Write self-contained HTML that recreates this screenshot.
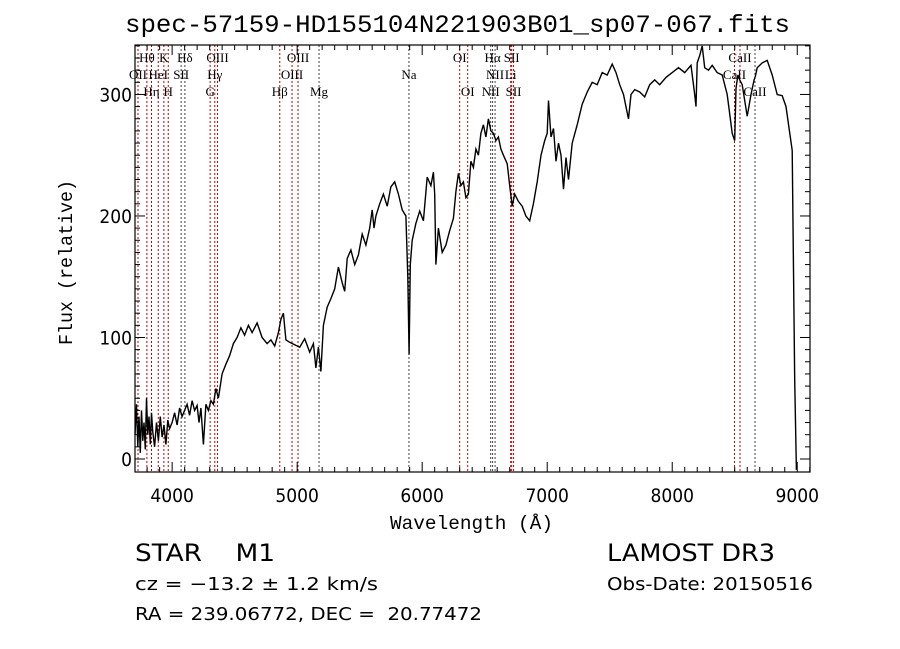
<!DOCTYPE html>
<html><head><meta charset="utf-8"><style>
body{margin:0;background:#fff;width:900px;height:649px;overflow:hidden}
svg{display:block}
.t{font-family:"Liberation Sans Narrow","DejaVu Sans Condensed","Liberation Sans",sans-serif;fill:#000}
.s{font-family:"Liberation Serif",serif;fill:#000}
.m{font-family:"Liberation Mono",monospace;fill:#000}
</style></head><body>
<svg id="chart" width="900" height="649">
<text class="m" x="125" y="32" font-size="25" textLength="665" lengthAdjust="spacingAndGlyphs">spec-57159-HD155104N221903B01_sp07-067.fits</text>
<g id="lines"></g>
<g id="labels"></g>
<path id="spec" fill="none" stroke="#000" stroke-width="1.4"/>
<rect x="135" y="45" width="675" height="427" fill="none" stroke="#000" stroke-width="1.2"/>
<g id="axes"></g>
<text class="m" x="390" y="529" font-size="19" textLength="163" lengthAdjust="spacingAndGlyphs">Wavelength (Å)</text>
<text class="m" x="0" y="0" font-size="19" textLength="165" lengthAdjust="spacingAndGlyphs" transform="translate(72,345) rotate(-90)">Flux (relative)</text>
<text class="t" x="135" y="561" font-size="24" textLength="140" lengthAdjust="spacingAndGlyphs" xml:space="preserve">STAR    M1</text>
<text class="t" x="607" y="561" font-size="24" textLength="168" lengthAdjust="spacingAndGlyphs">LAMOST DR3</text>
<text class="t" x="135" y="590" font-size="18" textLength="243" lengthAdjust="spacingAndGlyphs">cz = −13.2 ± 1.2 km/s</text>
<text class="t" x="607" y="590" font-size="18" textLength="206" lengthAdjust="spacingAndGlyphs">Obs-Date: 20150516</text>
<text class="t" x="135" y="620" font-size="18" textLength="347" lengthAdjust="spacingAndGlyphs" xml:space="preserve">RA = 239.06772, DEC =  20.77472</text>
</svg>
<script>
const wavelengths=[3703,3715,3725,3735,3745,3755,3765,3775,3785,3795,3805,3815,3825,3835,3845,3860,3875,3890,3905,3920,3935,3950,3965,3980,4000,4020,4040,4060,4080,4100,4120,4140,4160,4180,4200,4215,4230,4250,4270,4290,4310,4330,4350,4370,4400,4430,4460,4490,4520,4550,4580,4610,4640,4680,4720,4760,4790,4820,4850,4870,4890,4910,4940,4980,5020,5060,5100,5130,5150,5170,5190,5210,5240,5270,5300,5330,5360,5380,5400,5430,5460,5490,5520,5550,5580,5600,5615,5630,5660,5690,5720,5750,5780,5810,5840,5870,5885,5895,5905,5920,5950,5980,6010,6040,6070,6090,6100,6110,6130,6160,6190,6220,6250,6270,6290,6310,6330,6350,6370,6390,6410,6430,6450,6470,6490,6510,6530,6550,6570,6590,6610,6630,6650,6680,6700,6720,6740,6770,6800,6830,6860,6890,6920,6950,6980,7000,7010,7030,7050,7070,7090,7110,7130,7150,7170,7200,7240,7280,7320,7360,7400,7440,7480,7520,7550,7580,7610,7640,7650,7670,7700,7740,7780,7820,7860,7900,7950,8000,8050,8100,8150,8180,8190,8200,8220,8240,8260,8290,8320,8360,8400,8440,8480,8500,8510,8525,8540,8560,8600,8630,8655,8665,8680,8720,8760,8800,8840,8880,8910,8960,8980,8993,8998,9003];
const flux=[20,45,10,35,5,40,15,30,8,50,20,35,12,38,22,10,30,15,35,18,28,12,32,25,30,38,28,42,35,40,45,36,48,40,44,30,42,12,45,40,48,45,58,50,70,78,85,95,100,108,102,110,104,112,100,95,98,93,104,115,120,98,96,94,92,99,88,95,75,92,72,110,125,132,140,158,145,138,165,172,160,168,185,176,190,205,190,200,210,218,208,224,228,218,205,200,150,86,160,180,194,204,196,232,225,236,218,160,190,170,176,188,198,220,235,225,228,215,218,245,240,255,250,268,275,265,280,270,268,262,265,255,250,243,225,208,218,212,208,200,196,210,228,250,262,268,295,265,272,245,260,250,222,248,230,260,275,292,302,310,308,318,316,325,318,308,300,285,280,300,304,302,298,308,312,308,314,318,322,318,324,300,290,326,332,340,322,320,324,318,316,300,268,262,305,316,312,308,282,300,312,315,322,326,328,316,300,299,290,254,65,-9];
const lineWl=[3727,3798,3835,3889,3934,3969,4072,4102,4304,4341,4363,4861,4959,5007,5175,5894,6300,6364,6548,6563,6583,6708,6716,6731,8498,8542,8662];
const lineLabels=[["OII",1],["Hθ",0],["Hη",2],["HeI",1],["K",0],["H",2],["SII",1],["Hδ",0],["G",2],["Hγ",1],["OIII",0],["Hβ",2],["OIII",1],["OIII",0],["Mg",2],["Na",1],["OI",0],["OI",2],["NII",2],["Hα",0],["NII",1],["Li",1],["SII",0],["SII",2],["CaII",1],["CaII",0],["CaII",2]];
const lineGray=[0,0,0,0,0,0,1,1,0,0,0,0,0,0,1,1,0,0,1,1,1,0,0,0,0,0,1];
const xTicks=[4000,5000,6000,7000,8000,9000];
const yTicks=[0,100,200,300];

const X0=135,X1=810,Y0=45,Y1=472, WMIN=3703,WMAX=9102, FMIN=-10.7,FMAX=340.7;
const xs=w=>X0+(w-WMIN)/(WMAX-WMIN)*(X1-X0);
const ys=f=>Y1-(f-FMIN)/(FMAX-FMIN)*(Y1-Y0);
const NS='http://www.w3.org/2000/svg';
function mk(tag,attrs,parent){const e=document.createElementNS(NS,tag);for(const k in attrs)e.setAttribute(k,attrs[k]);parent.appendChild(e);return e;}

let d='';
wavelengths.forEach((w,i)=>{d+=(i?'L':'M')+xs(w).toFixed(1)+','+ys(flux[i]).toFixed(1);});
document.getElementById('spec').setAttribute('d',d);

const lg=document.getElementById('lines'), lb=document.getElementById('labels');
lineWl.forEach((w,i)=>{
  const l=mk('line',{x1:xs(w),x2:xs(w),y1:Y0,y2:Y1,stroke:lineGray[i]?'#444':'#c00000','stroke-width':1,'stroke-dasharray':'2,2'},lg);
  
  
  const t=mk('text',{x:xs(w),y:62+lineLabels[i][1]*17,'text-anchor':'middle','font-size':13,class:'s'},lb);
  t.textContent=lineLabels[i][0];
  
  
});

const ax=document.getElementById('axes');
for(let w=3800;w<=9100;w+=100){
  const major=w%1000===0;
  const len=major?10:5;
  mk('line',{x1:xs(w),x2:xs(w),y1:Y1,y2:Y1-len,stroke:'#000'},ax);
  mk('line',{x1:xs(w),x2:xs(w),y1:Y0,y2:Y0+len,stroke:'#000'},ax);
}
xTicks.forEach(w=>{
  const t=mk('text',{x:xs(w),y:Y1+30,'text-anchor':'middle','font-size':19,class:'t'},ax);
  t.textContent=w;
  
  
});
for(let f=0;f<=340;f+=10){
  const major=f%100===0;
  const len=major?10:5;
  mk('line',{x1:X0,x2:X0+len,y1:ys(f),y2:ys(f),stroke:'#000'},ax);
  mk('line',{x1:X1,x2:X1-len,y1:ys(f),y2:ys(f),stroke:'#000'},ax);
}
yTicks.forEach(f=>{
  const t=mk('text',{x:X0-3,y:ys(f)+7,'text-anchor':'end','font-size':19,class:'t'},ax);
  t.textContent=f;
  
  
});
</script>
</body></html>
